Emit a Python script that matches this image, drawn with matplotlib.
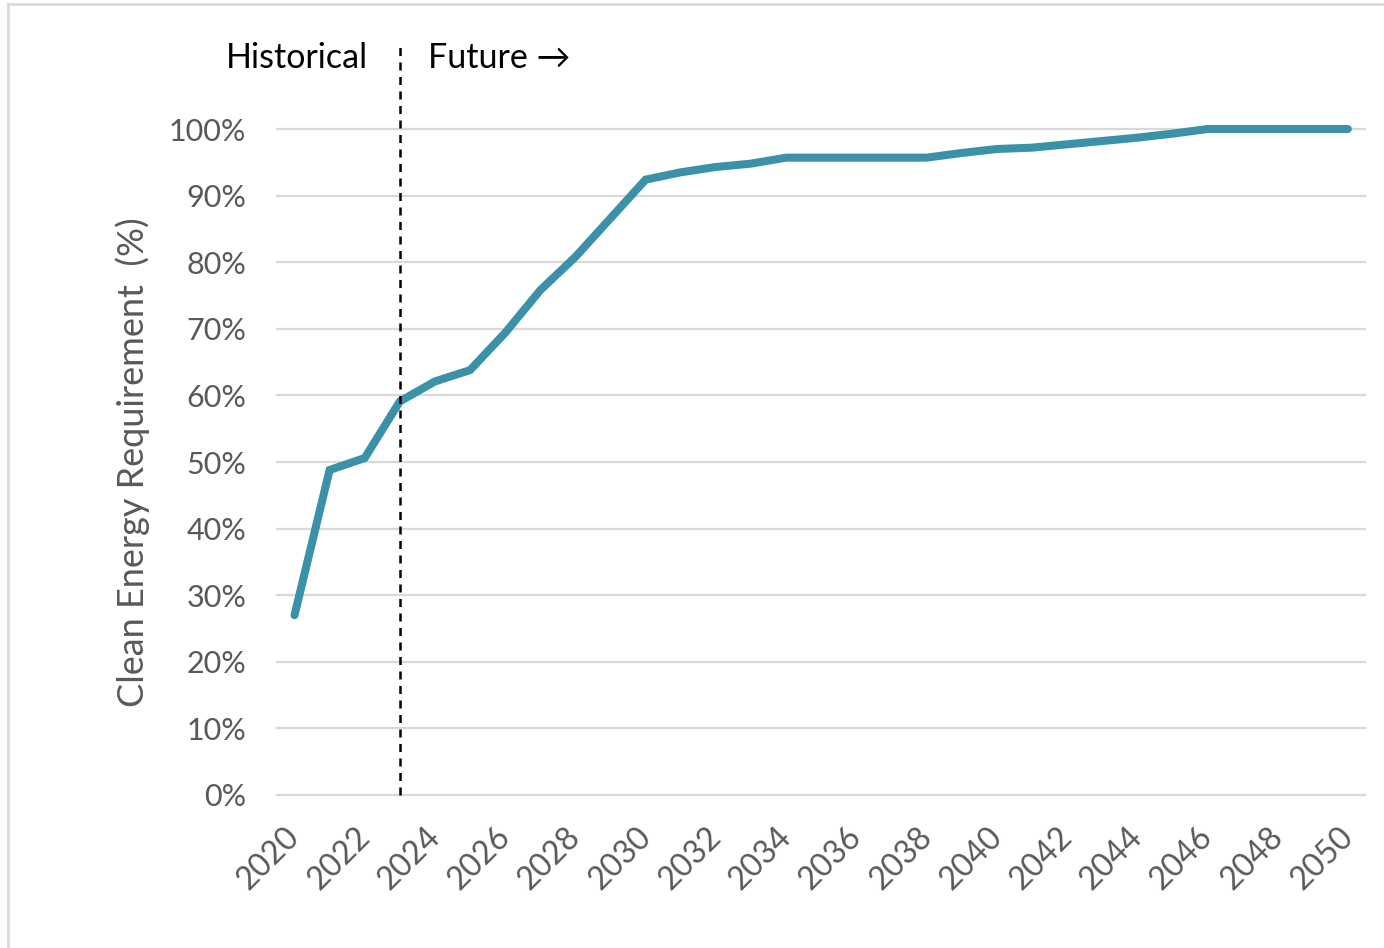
import matplotlib
matplotlib.use('Agg')
import matplotlib.pyplot as plt
from matplotlib.lines import Line2D
from matplotlib.ticker import FuncFormatter
from matplotlib.transforms import ScaledTranslation

plt.rcParams['font.family'] = ['Lato', 'DejaVu Sans']

# Clean energy requirement by year
years = list(range(2020, 2051))
requirement = [27.0, 48.8, 50.6, 59.1, 62.1, 63.8, 69.4, 75.8, 80.8, 86.6,
               92.4, 93.5, 94.3, 94.8, 95.7, 95.7, 95.7, 95.7, 95.7, 96.4,
               97.0, 97.2, 97.7, 98.2, 98.7, 99.3, 100.0, 100.0, 100.0, 100.0,
               100.0]
split_year = 2023
y_ticks = list(range(0, 101, 10))
x_ticks = list(range(2020, 2051, 2))

line_color = '#3A91A8'
grid_color = '#D9D9D9'
tick_color = '#595959'

fig = plt.figure(figsize=(13.84, 9.48), dpi=100)
ax = fig.add_axes([0.2001, 0.1614, 0.7865, 0.7025])

# light frame around the chart area
fig.add_artist(Line2D([8 / 1384, 8 / 1384], [0, 1 - 4 / 948], transform=fig.transFigure,
                      color=grid_color, lw=2))
fig.add_artist(Line2D([8 / 1384, 1], [1 - 4 / 948, 1 - 4 / 948], transform=fig.transFigure,
                      color=grid_color, lw=2))

for y in y_ticks:
    ax.axhline(y, color=grid_color, lw=1.6, zorder=1, clip_on=False)

ax.plot(years, requirement, color=line_color, lw=5.8, solid_capstyle='round',
        solid_joinstyle='miter', zorder=3, clip_on=False)

# boundary between historical and projected values
ax.axvline(split_year, ymin=0, ymax=1.126, color='black', lw=1.8, ls=(0, (3.2, 2.6)),
           zorder=4, clip_on=False)
ax.text(split_year - 0.9, 110.6, 'Historical', ha='right', va='center', fontsize=24.5,
        color='black')
ax.text(split_year + 0.8, 110.6, 'Future \u2192', ha='left', va='center', fontsize=24.5,
        color='black')

ax.set_xlim(2019.5, 2050.5)
ax.set_ylim(0, 100)
ax.set_yticks(y_ticks)
ax.yaxis.set_major_formatter(FuncFormatter(lambda v, p: f'{int(v)}%'))
ax.set_xticks(x_ticks)
ax.set_xticklabels([str(x) for x in x_ticks], rotation=45, ha='right', va='top',
                   rotation_mode='anchor')

ax.tick_params(axis='y', length=0, pad=22, labelsize=22, labelcolor=tick_color)
ax.tick_params(axis='x', length=0, pad=19, labelsize=23, labelcolor=tick_color)
shift = ScaledTranslation(-10 / 100, 0, fig.dpi_scale_trans)
for lbl in ax.get_xticklabels():
    lbl.set_transform(lbl.get_transform() + shift)
for s in ax.spines.values():
    s.set_visible(False)

ax.set_ylabel('Clean Energy Requirement  (%)', fontsize=26, color=tick_color, labelpad=14)

fig.savefig('out.png', dpi=100)
